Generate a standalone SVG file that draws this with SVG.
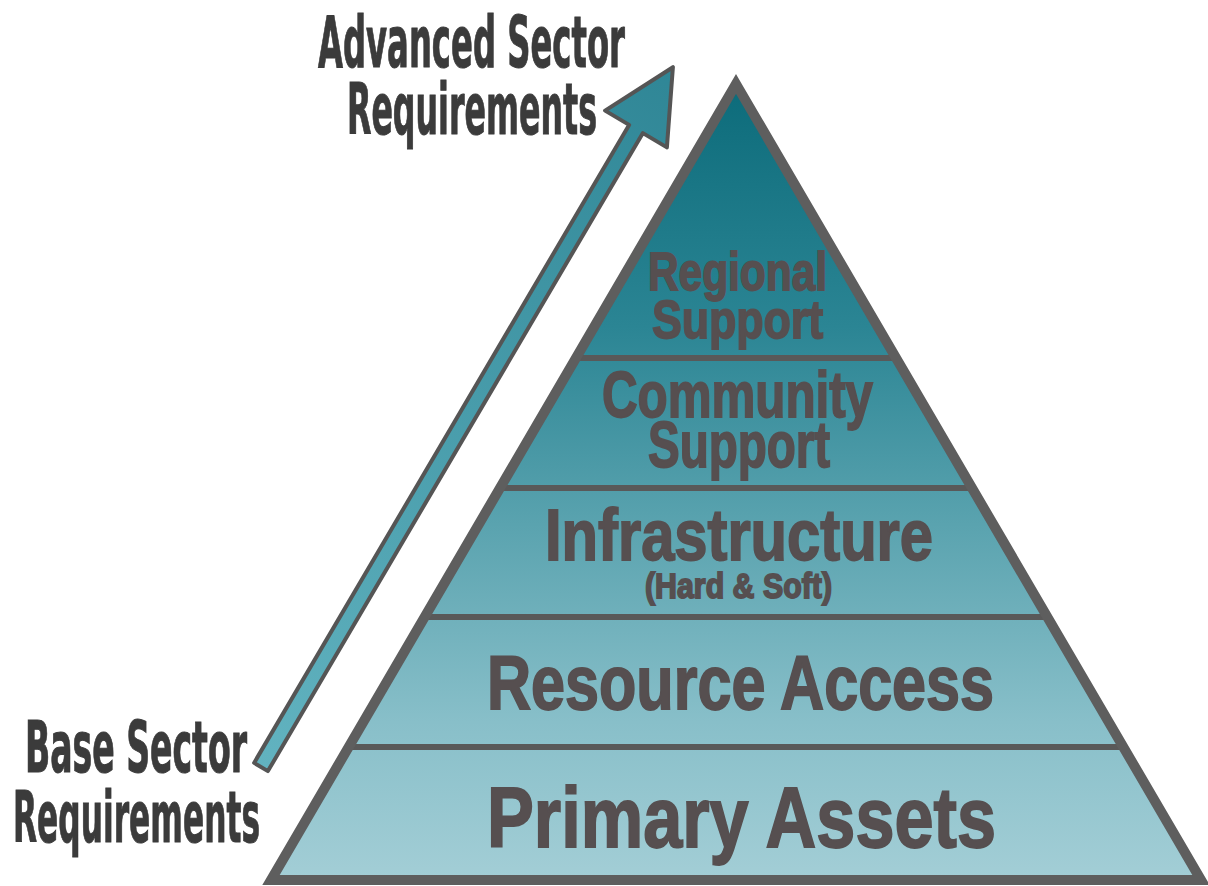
<svg xmlns="http://www.w3.org/2000/svg" width="1208" height="886" viewBox="0 0 1208 886">
<defs>
<linearGradient id="pyr" gradientUnits="userSpaceOnUse" x1="0" y1="90" x2="0" y2="880">
<stop offset="0" stop-color="#0d6c7b"/>
<stop offset="0.3" stop-color="#2b8594"/>
<stop offset="0.55" stop-color="#5aa3af"/>
<stop offset="0.8" stop-color="#88bfc9"/>
<stop offset="1" stop-color="#a3ced6"/>
</linearGradient>
<linearGradient id="arr" gradientUnits="userSpaceOnUse" x1="261" y1="767" x2="672" y2="67">
<stop offset="0" stop-color="#62b3c0"/>
<stop offset="1" stop-color="#2f8696"/>
</linearGradient>
<style>
.layer{fill:url(#pyr);stroke:none}
.sep{stroke:#595959;stroke-width:6;fill:none}
.outline{fill:none;stroke:#5e5e5e;stroke-width:10;stroke-linejoin:miter}
.lbl{font-family:"Liberation Sans Narrow","DejaVu Sans Condensed","Liberation Sans",sans-serif;font-weight:bold;fill:#3b3b3b;stroke:#3b3b3b;stroke-width:1}
.pt{font-family:"Liberation Sans Narrow","Liberation Sans","DejaVu Sans Condensed",sans-serif;font-weight:bold;fill:#564f50;stroke:#564f50;stroke-width:1.8}
</style>
</defs>
<rect width="1208" height="886" fill="#ffffff"/>

<g id="pyramid">
<g id="regional-support">
<polygon class="layer" points="736,84 896,358 576,358"/>
<text class="pt" font-size="53"><tspan x="648" y="290" textLength="179" lengthAdjust="spacingAndGlyphs">Regional</tspan><tspan x="652" y="338" textLength="171" lengthAdjust="spacingAndGlyphs">Support</tspan></text>
</g>
<g id="community-support">
<polygon class="layer" points="576,358 896,358 972,488 500,488"/>
<text class="pt" font-size="64"><tspan x="602" y="417" textLength="271" lengthAdjust="spacingAndGlyphs">Community</tspan><tspan x="648" y="467" textLength="182" lengthAdjust="spacingAndGlyphs">Support</tspan></text>
</g>
<g id="infrastructure">
<polygon class="layer" points="500,488 972,488 1047,617 425,617"/>
<text class="pt" font-size="72"><tspan x="545" y="560" textLength="388" lengthAdjust="spacingAndGlyphs">Infrastructure</tspan><tspan x="645" y="598" font-size="35" textLength="187" lengthAdjust="spacingAndGlyphs">(Hard &amp; Soft)</tspan></text>
</g>
<g id="resource-access">
<polygon class="layer" points="425,617 1047,617 1123,747 349,747"/>
<text class="pt" x="487" y="709" font-size="76" textLength="507" lengthAdjust="spacingAndGlyphs">Resource Access</text>
</g>
<g id="primary-assets">
<polygon class="layer" points="349,747 1123,747 1201,880 271,880"/>
<text class="pt" x="487" y="847" font-size="85" textLength="509" lengthAdjust="spacingAndGlyphs">Primary Assets</text>
</g>
<g id="pyramid-lines">
<line class="sep" x1="576" y1="358" x2="896" y2="358"/>
<line class="sep" x1="500" y1="488" x2="972" y2="488"/>
<line class="sep" x1="425" y1="617" x2="1047" y2="617"/>
<line class="sep" x1="349" y1="747" x2="1123" y2="747"/>
<polygon class="outline" points="736,84 1201,880 271,880"/>
</g>
</g>

<g id="connectors">
<polygon points="254.1,762.9 629.1,124.9 605.1,110.6 672.9,67.2 666.9,147.4 642.9,133.1 267.9,771.1" fill="url(#arr)" stroke="#555555" stroke-width="4" stroke-linejoin="round"/>
</g>

<g id="label-advanced">
<text class="lbl" font-size="71"><tspan x="318" y="67" textLength="307" lengthAdjust="spacingAndGlyphs">Advanced Sector</tspan><tspan x="347" y="134" textLength="250" lengthAdjust="spacingAndGlyphs">Requirements</tspan></text>
</g>
<g id="label-base">
<text class="lbl" font-size="71"><tspan x="25" y="772" textLength="222" lengthAdjust="spacingAndGlyphs">Base Sector</tspan><tspan x="13" y="842" textLength="247" lengthAdjust="spacingAndGlyphs">Requirements</tspan></text>
</g>
</svg>
